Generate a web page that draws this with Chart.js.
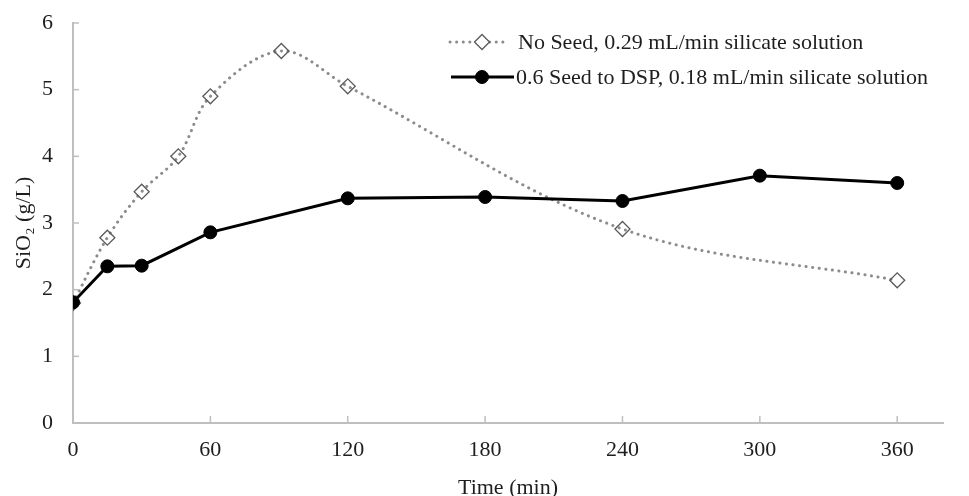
<!DOCTYPE html>
<html>
<head>
<meta charset="utf-8">
<script src="https://cdn.jsdelivr.net/npm/chart.js@4.4.1/dist/chart.umd.min.js"></script>
<style>
  html, body { margin: 0; padding: 0; background: #fff; }
  #wrap { width: 969px; height: 496px; position: relative; }
</style>
</head>
<body>
<div id="wrap"><canvas id="c" width="969" height="496"></canvas></div>
<script>
// ---- data ----
const noSeedTime = [0, 15, 30, 46, 60, 91, 120, 240, 360];
const noSeedSiO2 = [1.80, 2.78, 3.47, 4.00, 4.90, 5.58, 5.05, 2.91, 2.14];
const seedTime = [0, 15, 30, 60, 120, 180, 240, 300, 360];
const seedSiO2 = [1.81, 2.35, 2.36, 2.86, 3.37, 3.39, 3.33, 3.71, 3.60];
const seriesLabels = ['No Seed, 0.29 mL/min silicate solution', '0.6 Seed to DSP, 0.18 mL/min silicate solution'];
const xTitle = 'Time (min)';
const yTitle = 'SiO\u2082 (g/L)';
const xTickStep = 60;
const yTickStep = 1;

const FONT = "'Liberation Serif', 'Times New Roman', serif";
const FS = 22;
const AXIS = '#bfbfbf';
const TXT = '#1e1e1e';

function pts(xs, ys) { return xs.map((x, i) => ({ x: x, y: ys[i] })); }

const innerTicks = {
  id: 'innerTicks',
  afterDatasetsDraw(chart) {
    const ctx = chart.ctx;
    const xs = chart.scales.x, ys = chart.scales.y;
    ctx.save();
    ctx.strokeStyle = AXIS;
    ctx.lineWidth = 1.5;
    xs.ticks.forEach(t => {
      const px = xs.getPixelForValue(t.value);
      ctx.beginPath(); ctx.moveTo(px, ys.bottom); ctx.lineTo(px, ys.bottom - 7); ctx.stroke();
    });
    ys.ticks.forEach(t => {
      const py = ys.getPixelForValue(t.value);
      ctx.beginPath(); ctx.moveTo(xs.left, py); ctx.lineTo(xs.left + 6, py); ctx.stroke();
    });
    ctx.restore();
  }
};

const customLegend = {
  id: 'customLegend',
  afterDraw(chart) {
    const ctx = chart.ctx;
    const rows = [{ y: 42, x0: 450, x1: 508, mx: 482, tx: 518 }, { y: 77, x0: 451, x1: 514, mx: 482, tx: 516 }];
    chart.data.datasets.forEach((ds, i) => {
      const r = rows[i];
      ctx.save();
      ctx.strokeStyle = ds.borderColor;
      ctx.lineWidth = ds.borderWidth;
      ctx.lineCap = ds.borderCapStyle || 'butt';
      ctx.setLineDash(ds.borderDash || []);
      ctx.beginPath(); ctx.moveTo(r.x0, r.y); ctx.lineTo(r.x1, r.y); ctx.stroke();
      ctx.setLineDash([]);
      ctx.strokeStyle = ds.pointBorderColor;
      ctx.lineWidth = ds.pointBorderWidth;
      ctx.beginPath();
      if (ds.pointStyle === 'rectRot') {
        const rr = ds.pointRadius;
        ctx.fillStyle = '#fff';
        ctx.moveTo(r.mx, r.y - rr); ctx.lineTo(r.mx + rr, r.y); ctx.lineTo(r.mx, r.y + rr); ctx.lineTo(r.mx - rr, r.y); ctx.closePath();
        ctx.fill(); ctx.stroke();
      } else {
        ctx.fillStyle = ds.pointBackgroundColor;
        ctx.arc(r.mx, r.y, ds.pointRadius, 0, Math.PI * 2);
        ctx.fill(); ctx.stroke();
      }
      ctx.fillStyle = TXT;
      ctx.font = FS + 'px ' + FONT;
      ctx.textBaseline = 'middle';
      ctx.textAlign = 'left';
      ctx.fillText(ds.label, r.tx, r.y + 1);
      ctx.restore();
    });
  }
};

new Chart(document.getElementById('c'), {
  type: 'line',
  data: {
    datasets: [
      {
        label: seriesLabels[0],
        data: pts(noSeedTime, noSeedSiO2),
        order: 1,
        borderColor: '#8c8c8c',
        borderWidth: 3,
        borderDash: [0.1, 6.5],
        borderCapStyle: 'round',
        tension: 0.35,
        pointStyle: 'rectRot',
        pointRadius: 7.5,
        pointBorderWidth: 1.3,
        pointBorderColor: '#595959',
        pointBackgroundColor: 'rgba(0,0,0,0)',
        fill: false
      },
      {
        label: seriesLabels[1],
        data: pts(seedTime, seedSiO2),
        order: 0,
        borderColor: '#000',
        borderWidth: 3,
        tension: 0,
        pointStyle: 'circle',
        pointRadius: 6.5,
        pointBorderWidth: 1,
        pointBorderColor: '#000',
        pointBackgroundColor: '#000',
        fill: false
      }
    ]
  },
  options: {
    responsive: false,
    animation: false,
    devicePixelRatio: 1,
    layout: { padding: { top: 23, right: 26, left: 0, bottom: 0 } },
    plugins: { legend: { display: false }, tooltip: { enabled: false } },
    scales: {
      x: {
        type: 'linear', min: 0, max: 380,
        afterFit(s) { s.height = 73; s.paddingLeft = 0; s.paddingRight = 0; },
        border: { display: true, color: AXIS, width: 2 },
        grid: { display: false, drawTicks: false },
        ticks: { stepSize: xTickStep, includeBounds: false, padding: 14, color: TXT, font: { family: FONT, size: FS }, maxRotation: 0 },
        title: { display: true, text: xTitle, color: TXT, font: { family: FONT, size: FS }, padding: { top: 0, bottom: -5 } }
      },
      y: {
        type: 'linear', min: 0, max: 6,
        afterFit(s) { s.width = 73; s.paddingTop = 0; s.paddingBottom = 0; },
        border: { display: true, color: AXIS, width: 2 },
        grid: { display: false, drawTicks: false },
        ticks: { stepSize: yTickStep, padding: 20, color: TXT, font: { family: FONT, size: FS } },
        title: { display: true, text: yTitle, color: TXT, font: { family: FONT, size: FS }, padding: { top: 11, bottom: 0 } }
      }
    }
  },
  plugins: [innerTicks, customLegend]
});
</script>
</body>
</html>
